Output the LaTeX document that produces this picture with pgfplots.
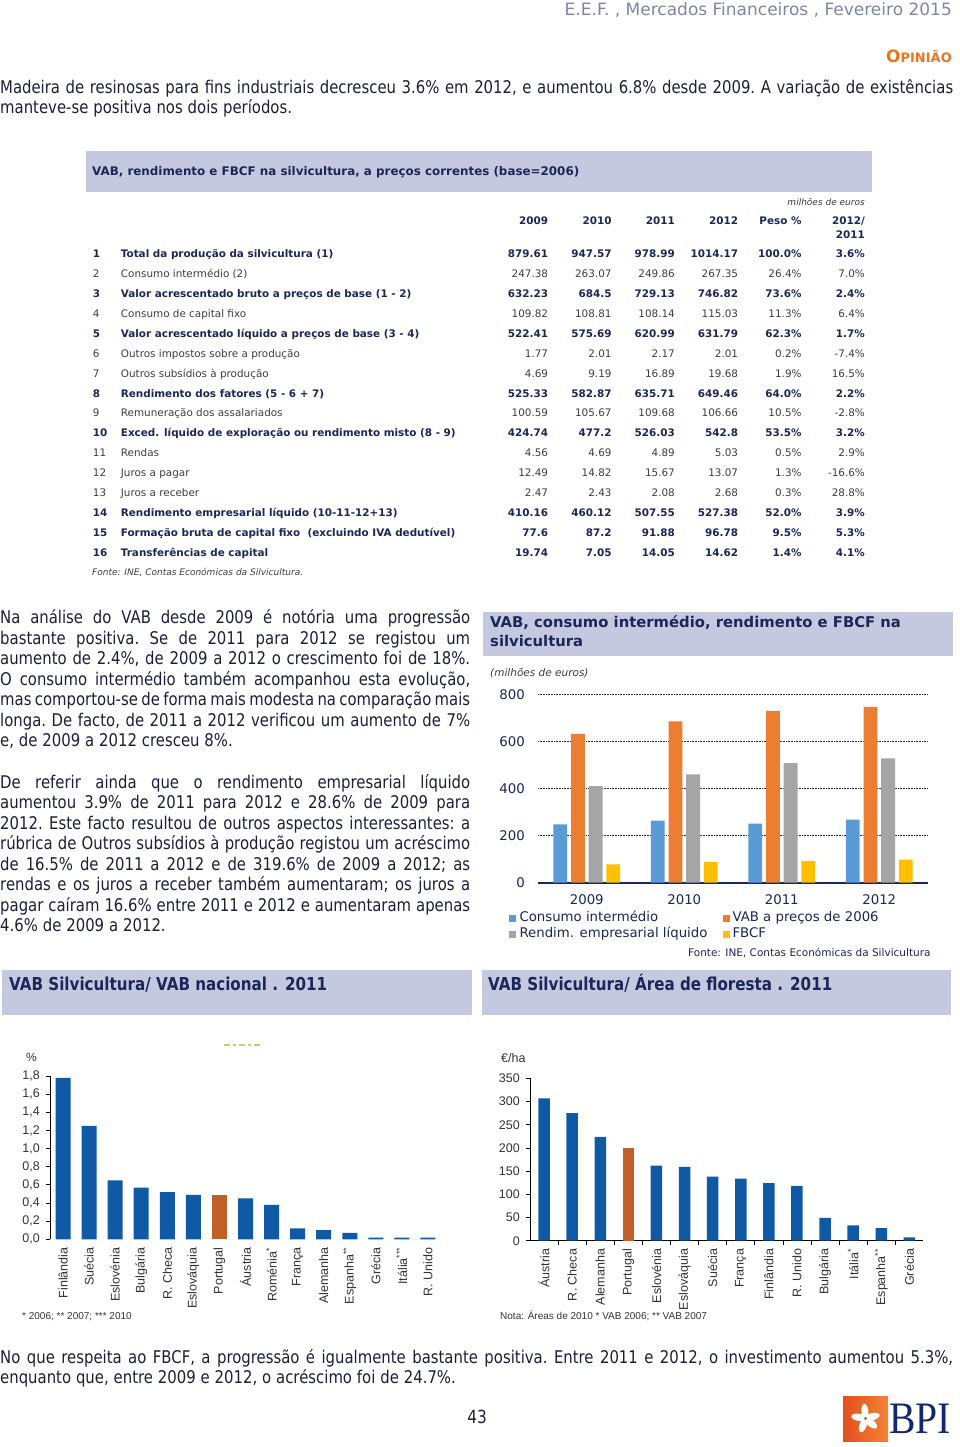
\documentclass[border=0pt]{standalone}
\usepackage{pgfplots}
\pgfplotsset{compat=1.18}
\usepackage{fontspec}
\setmainfont{DejaVu Sans}
\newfontfamily\cond{DejaVu Sans}[FakeStretch=0.85]
\newfontfamily\arial{Liberation Sans}
\newfontfamily\bpiserif{Liberation Serif}
\definecolor{band}{RGB}{197,201,223}
\definecolor{navy}{RGB}{27,38,89}
\definecolor{hdr}{RGB}{125,135,165}
\definecolor{opor}{RGB}{232,119,34}
\definecolor{bodyc}{RGB}{28,30,60}
\definecolor{gtxt}{RGB}{60,60,72}
\definecolor{cblue}{RGB}{91,155,213}
\definecolor{corange}{RGB}{237,125,49}
\definecolor{cgray}{RGB}{165,165,165}
\definecolor{cyellow}{RGB}{255,192,0}
\definecolor{dblue}{RGB}{16,90,165}
\definecolor{rust}{RGB}{192,95,40}
\definecolor{bpinavy}{RGB}{20,40,110}
\newcommand\bodyfont{\cond\fontsize{17.5}{20}\selectfont\frenchspacing\spaceskip=0.28em plus 1em minus 0.1em\relax}
\newcommand\jl[4]{\node[anchor=mid west,inner sep=0pt,text=bodyc,font=\bodyfont] at (#1,-#2-3.5) {\makebox[#3][s]{#4}};}
\newcommand\lastl[3]{\node[anchor=mid west,inner sep=0pt,text=bodyc,font=\bodyfont] at (#1,-#2-3.5) {#3};}
\tikzset{tb/.style={inner sep=0pt,text=navy,font=\fontsize{10.4}{12}\selectfont\bfseries},
         tr/.style={inner sep=0pt,text=gtxt,font=\fontsize{10.4}{12}\selectfont}}
\newcommand\trow[9]{%
  \pgfmathsetmacro\ry{-(254.8+19.93*(#1-1))}%
  \node[#9,anchor=mid west] at (92.7,\ry) {#1};
  \node[#9,anchor=mid west] at (120.7,\ry) {#2};
  \node[#9,anchor=mid east] at (548.3,\ry) {#3};
  \node[#9,anchor=mid east] at (611.7,\ry) {#4};
  \node[#9,anchor=mid east] at (675,\ry) {#5};
  \node[#9,anchor=mid east] at (738.3,\ry) {#6};
  \node[#9,anchor=mid east] at (801.7,\ry) {#7};
  \node[#9,anchor=mid east] at (865,\ry) {#8};
}
\begin{document}
\begin{tikzpicture}[x=1pt,y=1pt]
\fill[white] (0,0) rectangle (960,-1447);
\useasboundingbox (0,0) rectangle (960,-1447);
% header
\node[anchor=mid east,inner sep=0pt,text=hdr,font=\fontsize{17}{20}\selectfont] at (952,-13) {E.E.F. ‚ Mercados Financeiros ‚ Fevereiro 2015};
\node[anchor=base east,inner sep=0pt,text=opor,font=\bfseries] at (952,-63) {\fontsize{17}{18}\selectfont O\fontsize{13}{14}\selectfont PINIÃO};
% top paragraph
\jl{0}{87}{953pt}{Madeira de resinosas para fins industriais decresceu 3.6\% em 2012, e aumentou 6.8\% desde 2009. A variação de existências}
\lastl{0}{107.5}{manteve-se positiva nos dois períodos.}
% table
\fill[band] (86,-151) rectangle (872,-192.3);
\node[anchor=mid west,inner sep=0pt,text=navy,font=\fontsize{11.9}{14}\selectfont\bfseries] at (92,-172.5) {VAB, rendimento e FBCF na silvicultura, a preços correntes (base=2006)};
\node[anchor=mid east,inner sep=0pt,text=gtxt,font=\fontsize{9}{11}\selectfont\itshape] at (865,-202.8) {milhões de euros};
\foreach \xx/\lab in {548.3/2009,611.7/2010,675/2011,738.3/2012,801.7/Peso \%}
  \node[tb,anchor=mid east] at (\xx,-222.2) {\lab};
\node[tb,anchor=mid east] at (865,-222.2) {2012/};
\node[tb,anchor=mid east] at (865,-235.5) {2011};
\trow{1}{Total da produção da silvicultura (1)}{879.61}{947.57}{978.99}{1014.17}{100.0\%}{3.6\%}{tb}
\trow{2}{Consumo intermédio (2)}{247.38}{263.07}{249.86}{267.35}{26.4\%}{7.0\%}{tr}
\trow{3}{Valor acrescentado bruto a preços de base (1 - 2)}{632.23}{684.5}{729.13}{746.82}{73.6\%}{2.4\%}{tb}
\trow{4}{Consumo de capital fixo}{109.82}{108.81}{108.14}{115.03}{11.3\%}{6.4\%}{tr}
\trow{5}{Valor acrescentado líquido a preços de base (3 - 4)}{522.41}{575.69}{620.99}{631.79}{62.3\%}{1.7\%}{tb}
\trow{6}{Outros impostos sobre a produção}{1.77}{2.01}{2.17}{2.01}{0.2\%}{-7.4\%}{tr}
\trow{7}{Outros subsídios à produção}{4.69}{9.19}{16.89}{19.68}{1.9\%}{16.5\%}{tr}
\trow{8}{Rendimento dos fatores (5 - 6 + 7)}{525.33}{582.87}{635.71}{649.46}{64.0\%}{2.2\%}{tb}
\trow{9}{Remuneração dos assalariados}{100.59}{105.67}{109.68}{106.66}{10.5\%}{-2.8\%}{tr}
\trow{10}{Exced. líquido de exploração ou rendimento misto (8 - 9)}{424.74}{477.2}{526.03}{542.8}{53.5\%}{3.2\%}{tb}
\trow{11}{Rendas}{4.56}{4.69}{4.89}{5.03}{0.5\%}{2.9\%}{tr}
\trow{12}{Juros a pagar}{12.49}{14.82}{15.67}{13.07}{1.3\%}{-16.6\%}{tr}
\trow{13}{Juros a receber}{2.47}{2.43}{2.08}{2.68}{0.3\%}{28.8\%}{tr}
\trow{14}{Rendimento empresarial líquido (10-11-12+13)}{410.16}{460.12}{507.55}{527.38}{52.0\%}{3.9\%}{tb}
\trow{15}{Formação bruta de capital fixo\ \ (excluindo IVA dedutível)}{77.6}{87.2}{91.88}{96.78}{9.5\%}{5.3\%}{tb}
\trow{16}{Transferências de capital}{19.74}{7.05}{14.05}{14.62}{1.4\%}{4.1\%}{tb}
\node[anchor=mid west,inner sep=0pt,text=gtxt,font=\fontsize{9}{11}\selectfont\itshape] at (92,-573) {Fonte: INE, Contas Económicas da Silvicultura.};
% left paragraphs
\jl{0}{617.5}{470pt}{Na análise do VAB desde 2009 é notória uma progressão}
\jl{0}{638}{470pt}{bastante positiva. Se de 2011 para 2012 se registou um}
\jl{0}{658.5}{470pt}{aumento de 2.4\%, de 2009 a 2012 o crescimento foi de 18\%.}
\jl{0}{679}{470pt}{O consumo intermédio também acompanhou esta evolução,}
\jl{0}{699.5}{470pt}{mas comportou-se de forma mais modesta na comparação mais}
\jl{0}{720}{470pt}{longa. De facto, de 2011 a 2012 verificou um aumento de 7\%}
\lastl{0}{740.5}{e, de 2009 a 2012 cresceu 8\%.}
\jl{0}{782}{470pt}{De referir ainda que o rendimento empresarial líquido}
\jl{0}{802.5}{470pt}{aumentou 3.9\% de 2011 para 2012 e 28.6\% de 2009 para}
\jl{0}{823}{470pt}{2012. Este facto resultou de outros aspectos interessantes: a}
\jl{0}{843.5}{470pt}{rúbrica de Outros subsídios à produção registou um acréscimo}
\jl{0}{864}{470pt}{de 16.5\% de 2011 a 2012 e de 319.6\% de 2009 a 2012; as}
\jl{0}{884.5}{470pt}{rendas e os juros a receber também aumentaram; os juros a}
\jl{0}{905}{470pt}{pagar caíram 16.6\% entre 2011 e 2012 e aumentaram apenas}
\lastl{0}{925.5}{4.6\% de 2009 a 2012.}
% middle chart
\fill[band] (483,-612) rectangle (953,-655.5);
\node[anchor=mid west,inner sep=0pt,text=navy,font=\fontsize{14.8}{17}\selectfont\bfseries] at (490,-625) {VAB, consumo intermédio, rendimento e FBCF na};
\node[anchor=mid west,inner sep=0pt,text=navy,font=\fontsize{14.8}{17}\selectfont\bfseries] at (490,-643.5) {silvicultura};
\node[anchor=mid west,inner sep=0pt,text=gtxt,font=\fontsize{10.5}{12}\selectfont\itshape] at (490,-673.5) {(milhões de euros)};
\begin{axis}[
  at={(538pt,-882.5pt)}, anchor=south west,
  scale only axis, width=390pt, height=188.2pt,
  xmin=-0.5, xmax=3.5, ymin=0, ymax=800,
  ybar=3.9pt, bar width=13.8pt,
  axis x line*=bottom, axis y line*=left,
  x axis line style={navy, line width=2pt},
  y axis line style={draw=none},
  xtick={0,1,2,3}, xticklabels={2009,2010,2011,2012},
  ytick={0,200,400,600,800},
  major tick length=0pt,
  ymajorgrids, grid style={black!85, line width=0.8pt, dash pattern=on 0.8pt off 0.8pt},
  tick label style={font=\fontsize{13.3}{15}\selectfont, text=navy},
  /pgf/number format/assume math mode=true,
  yticklabel style={anchor=east, inner sep=0pt, xshift=-13pt},
  xticklabel style={anchor=north, inner sep=0pt, yshift=-12pt},
]
\addplot[fill=cblue, draw=none] coordinates {(0,247.38) (1,263.07) (2,249.86) (3,267.35)};
\addplot[fill=corange, draw=none] coordinates {(0,632.23) (1,684.5) (2,729.13) (3,746.82)};
\addplot[fill=cgray, draw=none] coordinates {(0,410.16) (1,460.12) (2,507.55) (3,527.38)};
\addplot[fill=cyellow, draw=none] coordinates {(0,77.6) (1,87.2) (2,91.88) (3,96.78)};
\end{axis}
\fill[cblue] (509.3,-914.7) rectangle ++(7,-7);
\fill[corange] (722.7,-914.7) rectangle ++(7,-7);
\fill[cgray] (509.3,-931.3) rectangle ++(7,-7);
\fill[cyellow] (722.7,-931.3) rectangle ++(7,-7);
\node[anchor=mid west,inner sep=0pt,text=navy,font=\fontsize{13.3}{15}\selectfont] at (519.3,-918.5) {Consumo intermédio};
\node[anchor=mid west,inner sep=0pt,text=navy,font=\fontsize{13.3}{15}\selectfont] at (732.3,-918.5) {VAB a preços de 2006};
\node[anchor=mid west,inner sep=0pt,text=navy,font=\fontsize{13.3}{15}\selectfont] at (519.3,-935.1) {Rendim. empresarial líquido};
\node[anchor=mid west,inner sep=0pt,text=navy,font=\fontsize{13.3}{15}\selectfont] at (732.3,-935.1) {FBCF};
\node[anchor=mid east,inner sep=0pt,text=navy,font=\fontsize{10.5}{12}\selectfont] at (930.7,-953.5) {Fonte: INE, Contas Económicas da Silvicultura};
% bottom bands
\fill[band] (2,-970) rectangle (472,-1015);
\fill[band] (482,-970) rectangle (951,-1015);
\node[anchor=mid west,inner sep=0pt,text=navy,font=\cond\fontsize{17.8}{20}\selectfont\bfseries] at (9,-987.5) {VAB Silvicultura/ VAB nacional . 2011};
\node[anchor=mid west,inner sep=0pt,text=navy,font=\cond\fontsize{17.8}{20}\selectfont\bfseries] at (488,-987.5) {VAB Silvicultura/ Área de floresta . 2011};
\draw[olive!45, line width=1.5pt, dash pattern=on 6pt off 3pt on 3pt off 3pt] (224,-1045) -- (262,-1045);
% bottom-left chart
\node[anchor=mid west,inner sep=0pt,text=black!80,font=\arial\fontsize{12}{14}\selectfont] at (26,-1059) {\%};
\begin{axis}[
  at={(50pt,-1239.3pt)}, anchor=south west,
  scale only axis, width=391pt, height=163.3pt,
  xmin=-0.5, xmax=14.5, ymin=0, ymax=1.8,
  axis x line*=bottom, axis y line*=left,
  x axis line style={draw=none}, y axis line style={black, line width=0.8pt},
  xtick={0,...,14},
  xticklabels={Finlândia,Suécia,Eslovénia,Bulgária,R. Checa,Eslováquia,Portugal,Áustria,Roménia\textsuperscript{*},França,Alemanha,Espanha\textsuperscript{**},Grécia,Itália\textsuperscript{***},R. Unido},
  major x tick style={draw=none},
  ytick={0,0.2,0.4,0.6,0.8,1.0,1.2,1.4,1.6,1.8},
  major y tick style={black, line width=0.8pt},
  tick align=outside, major tick length=4pt,
  /pgf/number format/fixed, /pgf/number format/fixed zerofill, /pgf/number format/precision=1, /pgf/number format/use comma,
  tick label style={font=\arial\fontsize{12.5}{14}\selectfont, text=black!80},
  /pgf/number format/assume math mode=true,
  xticklabel style={yshift=-4pt, rotate=90, anchor=east, inner sep=0pt},
  yticklabel style={anchor=east, inner sep=0pt, xshift=-6pt},
  bar width=15pt,
]
\addplot[ybar, bar shift=0pt, fill=dblue, draw=none] coordinates {(0,1.78) (1,1.25) (2,0.65) (3,0.57) (4,0.52) (5,0.49) (7,0.45) (8,0.38) (9,0.12) (10,0.10) (11,0.07) (12,0.02) (13,0.02) (14,0.02)};
\addplot[ybar, bar shift=0pt, fill=rust, draw=none] coordinates {(6,0.49)};
\end{axis}
\node[anchor=mid west,inner sep=0pt,text=black!80,font=\arial\fontsize{10}{12}\selectfont] at (22,-1317) {* 2006; ** 2007; *** 2010};
% bottom-right chart
\node[anchor=mid west,inner sep=0pt,text=black!80,font=\arial\fontsize{12.5}{14}\selectfont] at (501,-1060) {€/ha};
\begin{axis}[
  at={(530pt,-1240.7pt)}, anchor=south west,
  scale only axis, width=393.4pt, height=162.4pt,
  xmin=-0.5, xmax=13.5, ymin=0, ymax=350,
  axis x line*=bottom, axis y line*=left,
  x axis line style={black, line width=1.5pt}, y axis line style={black, line width=0.8pt},
  xtick={0,...,13},
  xticklabels={Áustria,R. Checa,Alemanha,Portugal,Eslovénia,Eslováquia,Suécia,França,Finlândia,R. Unido,Bulgária,Itália\textsuperscript{*},Espanha\textsuperscript{**},Grécia},
  minor xtick={0.5,1.5,...,12.5},
  major x tick style={draw=none},
  minor x tick style={black, line width=0.8pt},
  major y tick style={black, line width=0.8pt},
  tick align=outside, major tick length=4pt, minor tick length=4pt,
  ytick={0,50,...,350},
  tick label style={font=\arial\fontsize{12.5}{14}\selectfont, text=black!80},
  /pgf/number format/assume math mode=true,
  xticklabel style={yshift=-4pt, rotate=90, anchor=east, inner sep=0pt},
  yticklabel style={anchor=east, inner sep=0pt, xshift=-6pt},
  bar width=11.5pt,
]
\addplot[ybar, bar shift=0pt, fill=dblue, draw=none] coordinates {(0,307) (1,275) (2,224) (4,162) (5,159) (6,138) (7,134) (8,124) (9,118) (10,49) (11,33) (12,27) (13,7)};
\addplot[ybar, bar shift=0pt, fill=rust, draw=none] coordinates {(3,200)};
\end{axis}
\node[anchor=mid west,inner sep=0pt,text=black!80,font=\arial\fontsize{10}{12}\selectfont] at (500,-1317) {Nota: Áreas de 2010 * VAB 2006; ** VAB 2007};
% bottom paragraph
\jl{0}{1357}{953pt}{No que respeita ao FBCF, a progressão é igualmente bastante positiva. Entre 2011 e 2012, o investimento aumentou 5.3\%,}
\lastl{0}{1377.5}{enquanto que, entre 2009 e 2012, o acréscimo foi de 24.7\%.}
\node[inner sep=0pt,text=bodyc,font=\cond\fontsize{18}{20}\selectfont,anchor=mid] at (477,-1421) {43};
% BPI logo
\shade[left color={rgb,255:red,228;green,78;blue,30}, right color={rgb,255:red,242;green,132;blue,52}] (843,-1396) rectangle (888,-1441);
\foreach \a in {15,95,170,250,320}
  \fill[white, rotate around={\a:(865.5,-1418.5)}] (872.5,-1418.5) ellipse (7.5 and 3.6);
\fill[rust] (865.5,-1418.5) circle (1.6);
\node[anchor=base west,inner sep=0pt,text=bpinavy,font=\bpiserif\fontsize{45}{45}\selectfont] at (889,-1433) {\scalebox{0.88}[1]{BPI}};
\end{tikzpicture}
\end{document}
